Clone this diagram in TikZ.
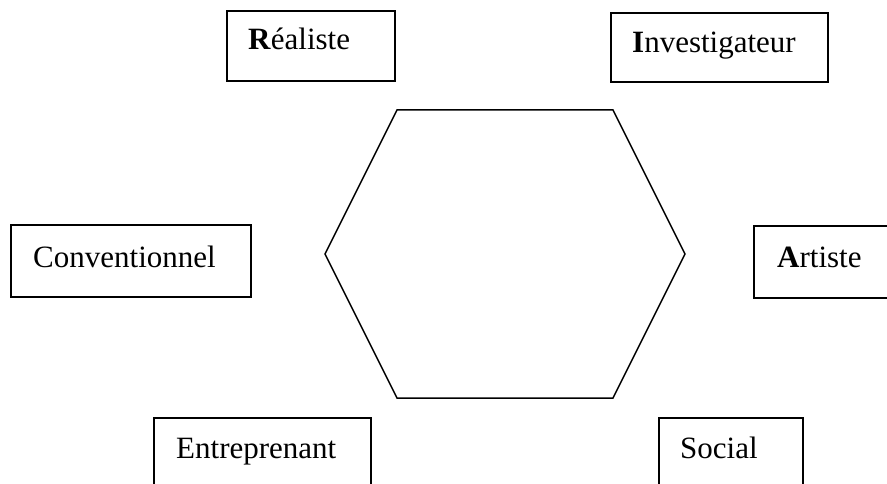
\documentclass[tikz,border=0pt]{standalone}
\usepackage{fontspec}
\setmainfont{Liberation Serif}
\begin{document}
\begin{tikzpicture}[x=1pt,y=-1pt,
  box/.style={draw,line width=1.2pt,inner sep=0pt,fill=none},
  lbl/.style={anchor=base west,inner sep=0pt,font=\fontsize{31}{36}\selectfont},
  hex/.style={draw,line width=1.5pt}]
\useasboundingbox (0,0) rectangle (887,484);
\clip (0,0) rectangle (887,484);
% boxes
\node[box,minimum width=168pt,minimum height=70pt] (rb) at (311,46) {};
\node[box,minimum width=217pt,minimum height=69pt] (ib) at (719.5,47.5) {};
\node[box,minimum width=240pt,minimum height=72pt] (cb) at (131,261) {};
\node[box,minimum width=160pt,minimum height=72pt] (ab) at (834,262) {};
\node[box,minimum width=217pt,minimum height=90pt] (eb) at (262.5,463) {};
\node[box,minimum width=144pt,minimum height=90pt] (sb) at (731,463) {};
% labels
\node[lbl] (rt) at (248,50) {\textbf{R}éaliste};
\node[lbl] (it) at (632,53) {\textbf{I}nvestigateur};
\node[lbl] (ct) at (33,267) {Conventionnel};
\node[lbl] (at) at (777,267) {\textbf{A}rtiste};
\node[lbl] (et) at (176,458) {Entreprenant};
\node[lbl] (st) at (680,458) {Social};
% hexagon
\coordinate (h1) at (397,110);
\coordinate (h2) at (613,110);
\coordinate (h3) at (685,254);
\coordinate (h4) at (613,398);
\coordinate (h5) at (397,398);
\coordinate (h6) at (325,254);
\draw[hex] (h1) -- (h2) -- (h3) -- (h4) -- (h5) -- (h6) -- cycle;
\end{tikzpicture}
\end{document}
